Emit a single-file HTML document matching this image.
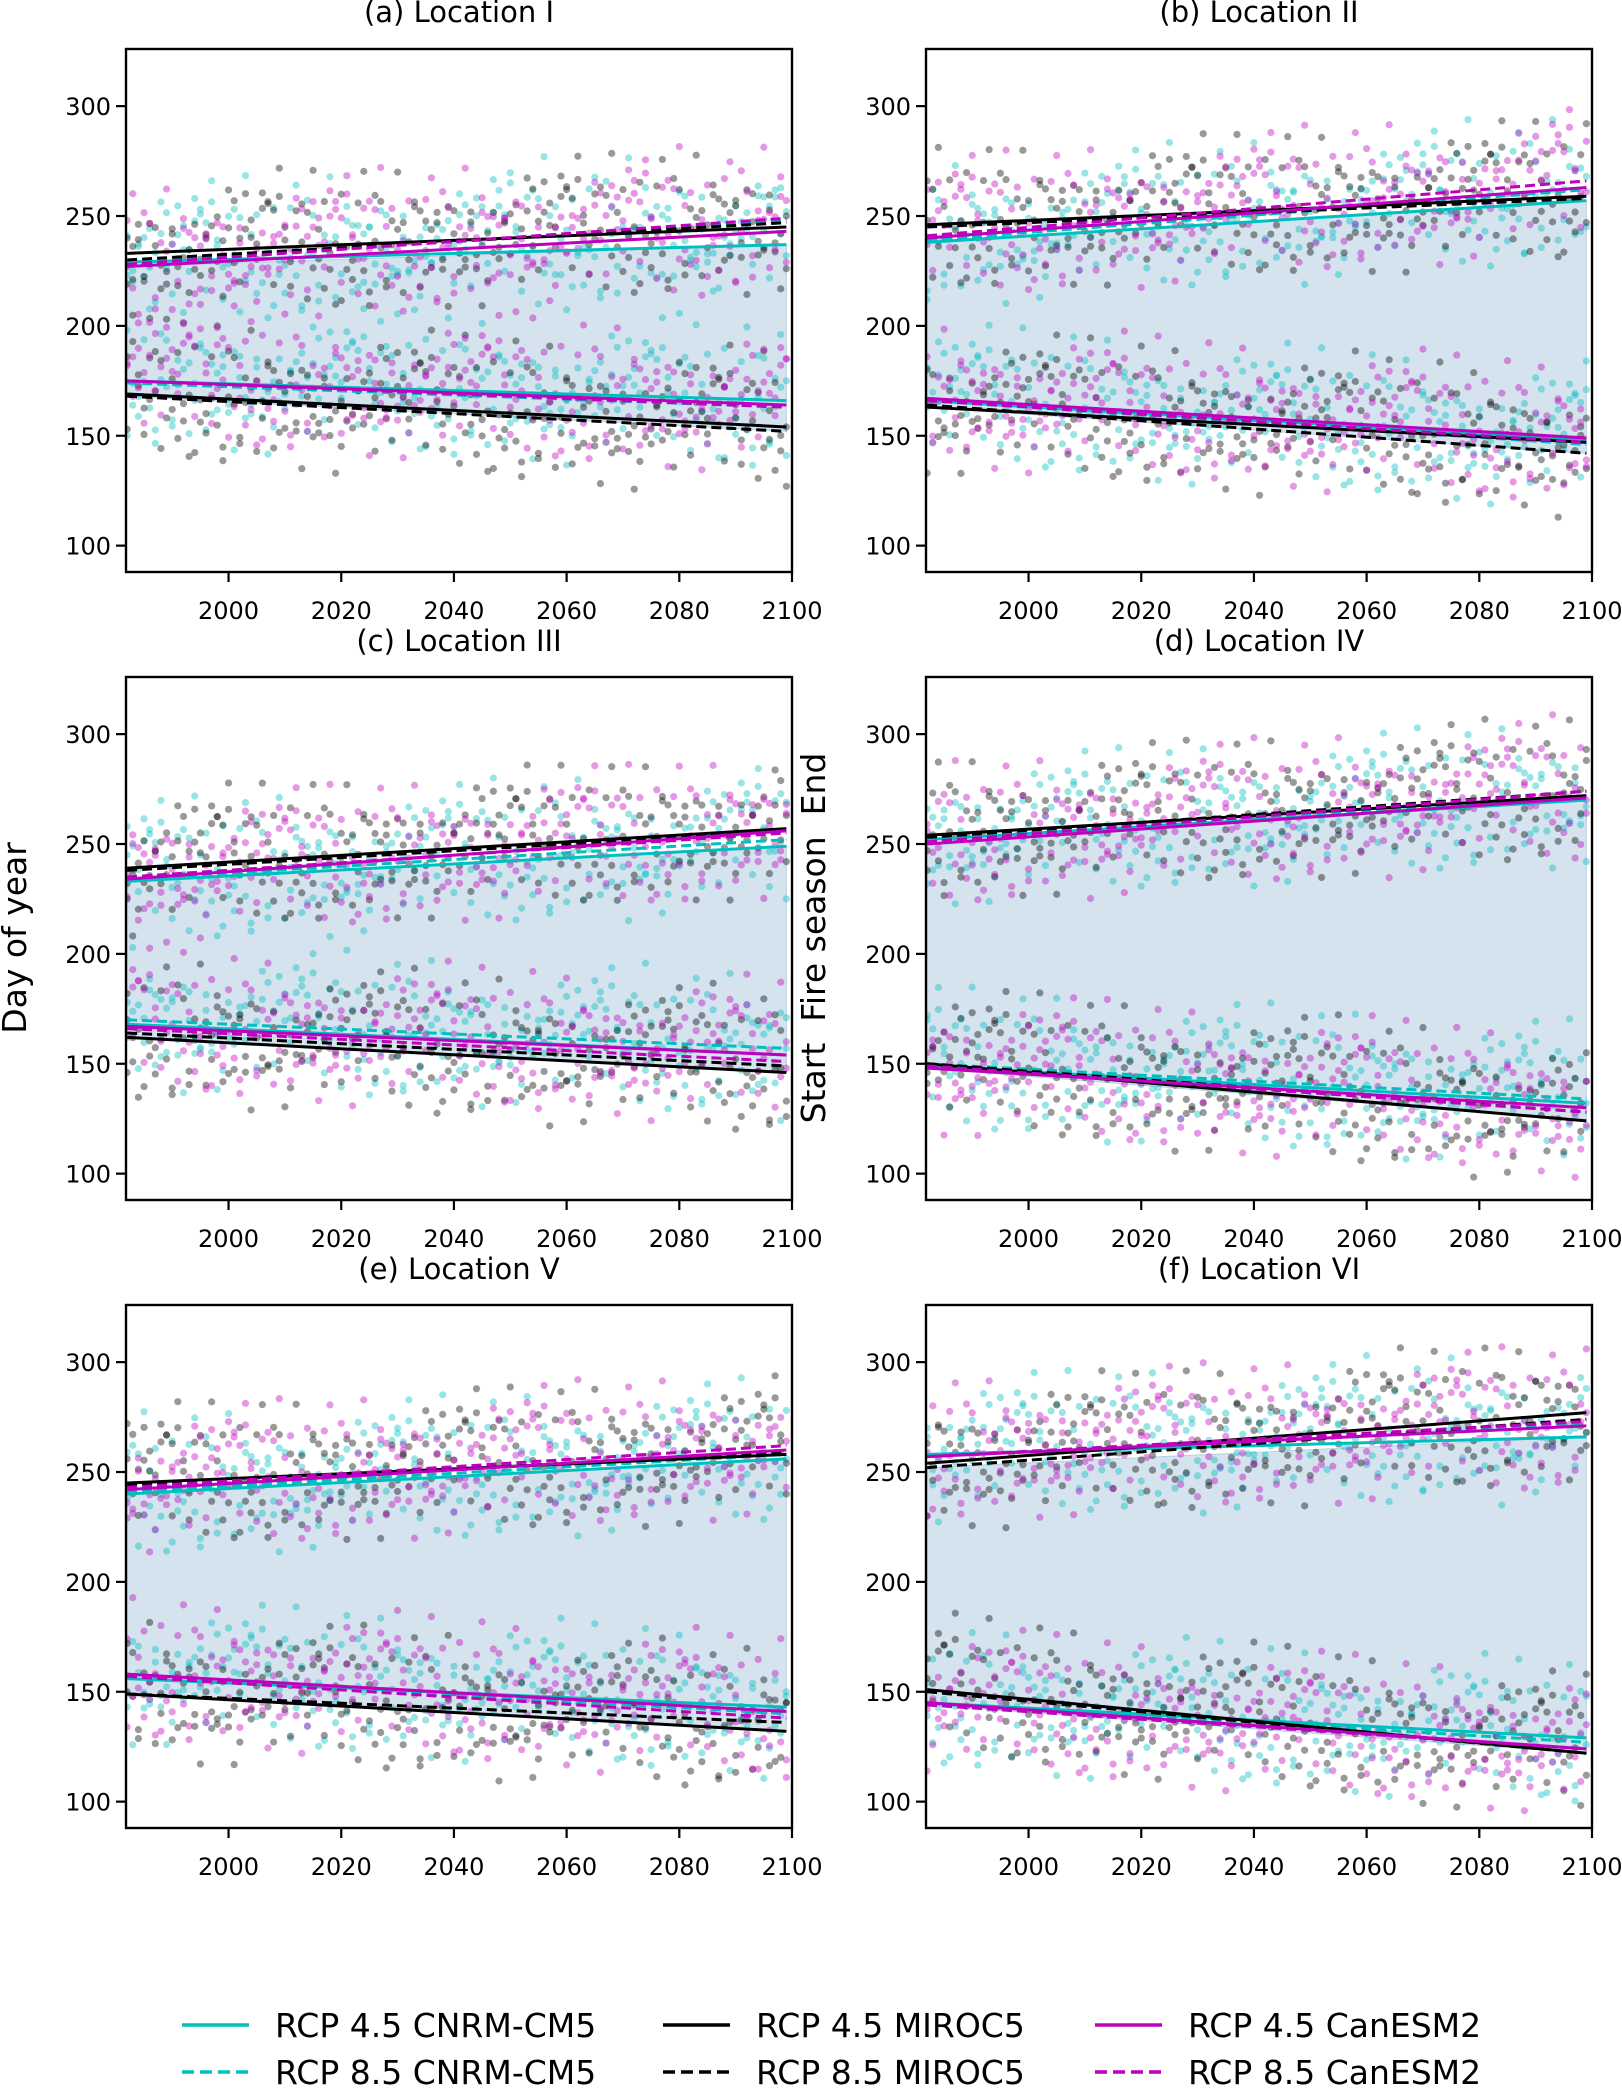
<!DOCTYPE html>
<html><head><meta charset="utf-8">
<style>
html,body{margin:0;padding:0;background:#fff;}
svg text{font-family:"DejaVu Sans","Liberation Sans",sans-serif;}
</style></head>
<body>
<svg id="fig" width="1622" height="2090" viewBox="0 0 1622 2090" xmlns="http://www.w3.org/2000/svg">
<rect width="1622" height="2090" fill="#fff"/>
<text x="0" y="0" font-size="33" text-anchor="middle" transform="translate(26,938) rotate(-90)">Day of year</text>
<text x="0" y="0" font-size="33" text-anchor="middle" transform="translate(825,938) rotate(-90)" xml:space="preserve">Start  Fire season  End</text>
<g id="legend"></g>
</svg>
<script>
// ---- data ----
const panelTitles = ["(a) Location I","(b) Location II","(c) Location III","(d) Location IV","(e) Location V","(f) Location VI"];
const seriesNames = ["RCP 4.5 CNRM-CM5","RCP 8.5 CNRM-CM5","RCP 4.5 MIROC5","RCP 8.5 MIROC5","RCP 4.5 CanESM2","RCP 8.5 CanESM2"];
const yearStart = 1982, yearEnd = 2099;
// trend values [at yearStart, at yearEnd] per series (order as seriesNames)
const endSeasonA = [[229,237],[229,248],[233,245],[230,247],[227,243],[228,249]];
const startSeasonA = [[175,166],[174,163],[169,154],[168,152],[175,164],[175,163]];
const endSeasonB = [[238,257],[239,262],[246,259],[245,258],[240,263],[241,266]];
const startSeasonB = [[166,148],[166,146],[163,147],[164,142],[167,149],[166,147]];
const endSeasonC = [[233,249],[234,252],[239,257],[238,256],[234,256],[235,255]];
const startSeasonC = [[168,154],[170,157],[162,146],[164,149],[167,154],[166,151]];
const endSeasonD = [[252,270],[252,272],[254,272],[253,274],[250,271],[251,274]];
const startSeasonD = [[149,132],[150,134],[150,124],[150,128],[148,130],[149,128]];
const endSeasonE = [[240,256],[241,258],[245,258],[244,259],[242,260],[243,262]];
const startSeasonE = [[156,143],[157,140],[149,132],[149,136],[158,141],[157,138]];
const endSeasonF = [[258,266],[257,272],[254,277],[252,274],[257,271],[257,273]];
const startSeasonF = [[145,129],[145,127],[151,122],[150,122],[145,124],[144,124]];
// yearly anomalies around trend (days), cycled per series
const anomalies = [12,-8,20,-15,3,-22,9,-4,16,-11,25,-6,1,-18,7,14,-27,5,-9,19,-2,11,-14,23,-5,8,-20,2,15,-12,-1,18,-7,10,-24,4,13,-16,21,-3,6,-10,27,-13,0,17,-19,9,-6,22,-30,33,36];
const yTicks = [100,150,200,250,300];
const xTicks = [2000,2020,2040,2060,2080,2100];

const endAll=[endSeasonA,endSeasonB,endSeasonC,endSeasonD,endSeasonE,endSeasonF];
const startAll=[startSeasonA,startSeasonB,startSeasonC,startSeasonD,startSeasonE,startSeasonF];
const colors=["#00bfbf","#00bfbf","#000000","#000000","#bf00bf","#bf00bf"];
const dashed=[false,true,false,true,false,true];
const NS="http://www.w3.org/2000/svg";
const svg=document.getElementById('fig');
function mk(tag,attrs,parent){const e=document.createElementNS(NS,tag);for(const k in attrs)e.setAttribute(k,attrs[k]);(parent||svg).appendChild(e);return e;}
const cols=[[126,792],[926,1592]];
const rows=[[49,572],[677,1200],[1305,1828]];
const titleY=[22,651,1279];
const yMin=88,yMax=326,xMin=1981.8,xMax=2100;

for(let p=0;p<6;p++){
  const [L,R]=cols[p%2],[T,B]=rows[Math.floor(p/2)];
  const X=v=>L+(v-xMin)/(xMax-xMin)*(R-L);
  const Y=v=>B-(v-yMin)/(yMax-yMin)*(B-T);
  const g=mk('g',{});
  
  
  const t=mk('text',{x:(L+R)/2,y:titleY[Math.floor(p/2)],'font-size':29,'text-anchor':'middle'},g);
  t.textContent=panelTitles[p];
  
  
  const cid='clip'+p;
  const cp=mk('clipPath',{id:cid},g);mk('rect',{x:L,y:T,width:R-L,height:B-T},cp);
  const plot=mk('g',{'clip-path':'url(#'+cid+')'},g);
  const ends=endAll[p],starts=startAll[p];
  const val=(s,yr)=>s[0]+(s[1]-s[0])*(yr-yearStart)/(yearEnd-yearStart);
  let pts=[];
  for(const yr of [yearStart,yearEnd]) pts.push(X(yr)+','+Y(Math.min(...ends.map(s=>val(s,yr)))));
  for(const yr of [yearEnd,yearStart]) pts.push(X(yr)+','+Y(Math.min(...starts.map(s=>val(s,yr)))));
  const band=mk('polygon',{points:pts.join(' '),fill:'#d4e3ee',stroke:'#b9cfe3','stroke-width':1},plot);
  
  
  const n=anomalies.length;
  for(let s=0;s<6;s++){
    for(let yr=yearStart;yr<=yearEnd;yr++){
      const i=yr-yearStart;
      for(const [arr,off] of [[ends,0],[starts,23]]){
        const a=anomalies[(i*7+s*11+off+p*5)%n];
        const c=mk('circle',{cx:X(yr),cy:Y(val(arr[s],yr)+a),r:3.6,fill:colors[s],'fill-opacity':0.4},plot);
        
        
      }
    }
  }
  for(let s=0;s<6;s++){
    for(const arr of [ends,starts]){
      const ln=mk('line',{x1:X(yearStart),y1:Y(arr[s][0]),x2:X(yearEnd),y2:Y(arr[s][1]),stroke:colors[s],'stroke-width':3},plot);
      if(dashed[s])ln.setAttribute('stroke-dasharray','10,5');
      
      
    }
  }
  mk('rect',{x:L,y:T,width:R-L,height:B-T,fill:'none',stroke:'#000','stroke-width':2.4},g);
  for(const v of yTicks){
    mk('line',{x1:L-10,x2:L,y1:Y(v),y2:Y(v),stroke:'#000','stroke-width':2.2},g);
    const tx=mk('text',{x:L-15,y:Y(v)+9,'font-size':24,'text-anchor':'end'},g);tx.textContent=v;
    
    
  }
  for(const v of xTicks){
    mk('line',{x1:X(v),x2:X(v),y1:B,y2:B+10,stroke:'#000','stroke-width':2.2},g);
    const tx=mk('text',{x:X(v),y:B+47,'font-size':24,'text-anchor':'middle'},g);tx.textContent=v;
    
    
  }
}
const lg=document.getElementById('legend');
const lx=[182,663,1095],ly=[2025,2072];
const order=[[0,2,4],[1,3,5]];
for(let r=0;r<2;r++)for(let c=0;c<3;c++){
  const s=order[r][c];
  const ln=mk('line',{x1:lx[c],x2:lx[c]+67,y1:ly[r],y2:ly[r],stroke:colors[s],'stroke-width':3.5},lg);
  if(dashed[s])ln.setAttribute('stroke-dasharray','12,6');
  
  
  const tx=mk('text',{x:lx[c]+93,y:ly[r]+12,'font-size':33},lg);tx.textContent=seriesNames[s];
  
  
}
</script>
</body></html>
